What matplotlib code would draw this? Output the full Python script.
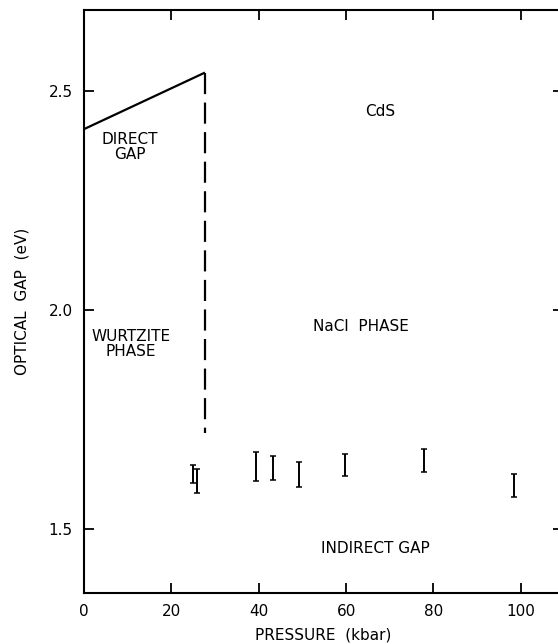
import matplotlib
matplotlib.use("Agg")
import matplotlib.pyplot as plt
import numpy as np

# direct gap (wurtzite phase)
direct_p = [0.0, 27.7]
direct_gap = [2.412, 2.541]
# phase transition
trans_p = 27.7
trans_gap = [2.541, 1.72]
# indirect gap (NaCl phase) with error bars
p_ind = [25.0, 25.8, 39.3, 43.2, 49.3, 59.7, 77.9, 98.4]
gap_ind = [1.626, 1.610, 1.643, 1.639, 1.625, 1.647, 1.656, 1.600]
gap_err = [0.021, 0.028, 0.033, 0.028, 0.029, 0.025, 0.026, 0.026]

xticks = [0, 20, 40, 60, 80, 100]
yticks = [1.5, 2.0, 2.5]

plt.rcParams['font.family'] = ['DejaVu Sans']

fig = plt.figure(figsize=(5.58, 6.44), dpi=100)
# right spine falls just outside the picture, as in the cropped original
ax = fig.add_axes([0.1505, 0.0797, 0.858, 0.905])

ax.plot(direct_p, direct_gap, color='black', lw=1.6, solid_capstyle='butt')
ax.plot([trans_p, trans_p], trans_gap, color='black', lw=1.6,
        linestyle=(0, (9.5, 3.8)))
ax.errorbar(p_ind, gap_ind, yerr=gap_err, fmt='none', ecolor='black',
            elinewidth=1.4, capsize=2.5, capthick=1.1)

ax.set_xlim(0, 109.6)
ax.set_ylim(1.355, 2.684)
ax.set_xticks(xticks)
ax.set_xticklabels([str(t) for t in xticks])
ax.set_yticks(yticks)
ax.set_yticklabels(['1.5', '2.0', '2.5'])
ax.tick_params(direction='in', length=7, width=1.3, top=True, right=True,
               labelsize=11, pad=8)
for s in ax.spines.values():
    s.set_linewidth(1.5)
ax.spines['right'].set_visible(False)

ax.set_xlabel('PRESSURE  (kbar)', fontsize=11, labelpad=6)
ax.set_ylabel('OPTICAL  GAP  (eV)', fontsize=11, labelpad=14)

txt = dict(ha='center', va='center', fontsize=11, linespacing=1.0)
ax.text(67.7, 2.452, 'CdS', **txt)
ax.text(10.4, 2.372, 'DIRECT\nGAP', **txt)
ax.text(10.8, 1.922, 'WURTZITE\nPHASE', **txt)
ax.text(63.5, 1.962, 'NaCl  PHASE', **txt)
ax.text(66.6, 1.455, 'INDIRECT GAP', **txt)

fig.savefig('out.png', dpi=100)
